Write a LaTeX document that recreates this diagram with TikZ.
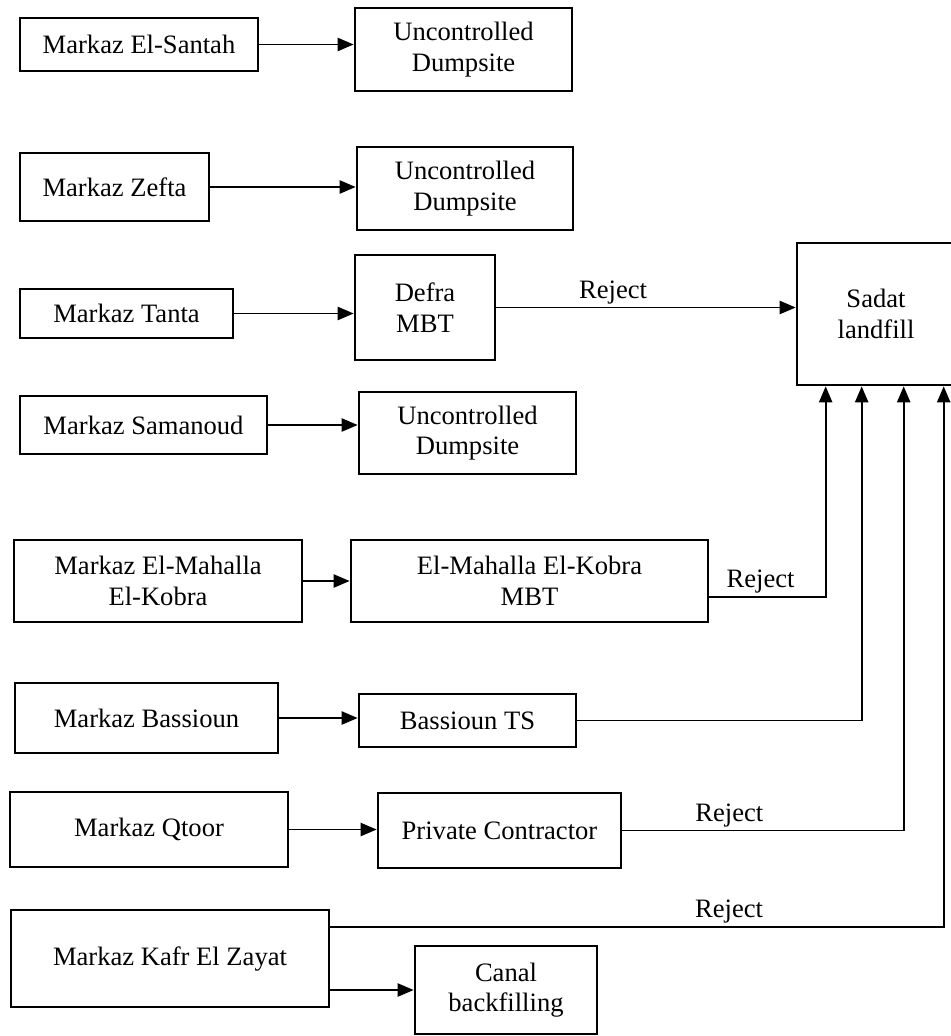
\documentclass[tikz,border=0pt]{standalone}
\usepackage{fontspec}
\setmainfont{Liberation Serif}
\usepackage{tikz}
\usetikzlibrary{positioning, arrows.meta, calc}

\begin{document}
\begin{tikzpicture}[
  x=0.025cm, y=-0.025cm,
  every node/.style={font=\fontsize{18.9}{21.8}\selectfont},
  markaz/.style={draw, line width=1.9pt, align=center, inner sep=0pt},
  facility/.style={draw, line width=1.9pt, align=center, inner sep=0pt},
  feed/.style={-{Triangle[length=0.4cm, width=0.33cm]}, line width=1.25pt},
  rejlabel/.style={above, inner sep=2pt},
]
  \useasboundingbox (0,0) rectangle (950,1036);

  % Districts (left column)
  \node[markaz, minimum width=5.95cm, minimum height=1.325cm] (santah) at (139,44.5) {Markaz El-Santah};
  \node[markaz, minimum width=4.725cm, minimum height=1.7cm] (zefta) at (114.5,187) {Markaz Zefta};
  \node[markaz, minimum width=5.325cm, minimum height=1.225cm] (tanta) at (126.5,313.5) {Markaz Tanta};
  \node[markaz, minimum width=6.175cm, minimum height=1.45cm] (samanoud) at (143.5,425) {Markaz Samanoud};
  \node[markaz, minimum width=7.2cm, minimum height=2.05cm] (mahalla) at (158,581) {Markaz El-Mahalla\\El-Kobra};
  \node[markaz, minimum width=6.575cm, minimum height=1.75cm] (bassioun) at (146.5,718) {Markaz Bassioun};
  \node[markaz, minimum width=6.95cm, minimum height=1.875cm] (qtoor) at (149,829.5) {Markaz Qtoor};
  \node[markaz, minimum width=7.95cm, minimum height=2.425cm] (kafr) at (170,958.5) {Markaz Kafr El Zayat};

  % Destinations (middle column)
  \node[facility, minimum width=5.425cm, minimum height=2.075cm] (dump1) at (463.5,49.5) {Uncontrolled\\Dumpsite};
  \node[facility, minimum width=5.4cm, minimum height=2.075cm] (dump2) at (465,188.5) {Uncontrolled\\Dumpsite};
  \node[facility, minimum width=3.5cm, minimum height=2.625cm] (defra) at (425,307.5) {Defra\\MBT};
  \node[facility, minimum width=5.425cm, minimum height=2.05cm] (dump3) at (467.5,433) {Uncontrolled\\Dumpsite};
  \node[facility, minimum width=8.925cm, minimum height=2.05cm] (mbt) at (529.5,581) {El-Mahalla El-Kobra\\MBT};
  \node[facility, minimum width=5.425cm, minimum height=1.325cm] (bts) at (467.5,720.5) {Bassioun TS};
  \node[facility, minimum width=6.075cm, minimum height=1.875cm] (contractor) at (499.5,830.5) {Private Contractor};
  \node[facility, minimum width=4.55cm, minimum height=2.2cm] (canal) at (506,990) {Canal\\backfilling};

  % Landfill
  \node[facility, minimum width=3.95cm, minimum height=3.55cm] (sadat) at (876,314) {Sadat\\landfill};
  \coordinate (in1) at ([xshift=0.75cm]sadat.south west);
  \coordinate (in2) at ([xshift=1.65cm]sadat.south west);
  \coordinate (in3) at ([xshift=2.7cm]sadat.south west);
  \coordinate (in4) at ([xshift=3.7cm]sadat.south west);

  % District -> facility
  \foreach \src/\dst in {santah/dump1, zefta/dump2, tanta/defra, samanoud/dump3,
                         mahalla/mbt, bassioun/bts, qtoor/contractor} {
    \draw[feed] (\src.east) -- (\src.east -| \dst.west);
  }
  \draw[feed] (canal.west -| kafr.east) -- (canal.west);

  % Flows into Sadat landfill
  \draw[feed] (defra.east) -- (defra.east -| sadat.west) node[rejlabel, pos=0.39] {Reject};
  \draw[feed] ([yshift=-0.4cm]mbt.east) -| (in1) node[rejlabel, pos=0.22] {Reject};
  \draw[feed] (bts.east) -| (in2);
  \draw[feed] (contractor.east) -| (in3) node[rejlabel, pos=0.19] {Reject};
  \draw[feed] ([yshift=-0.45cm]kafr.north east) -| (in4) node[rejlabel, pos=0.325] {Reject};
\end{tikzpicture}
\end{document}
